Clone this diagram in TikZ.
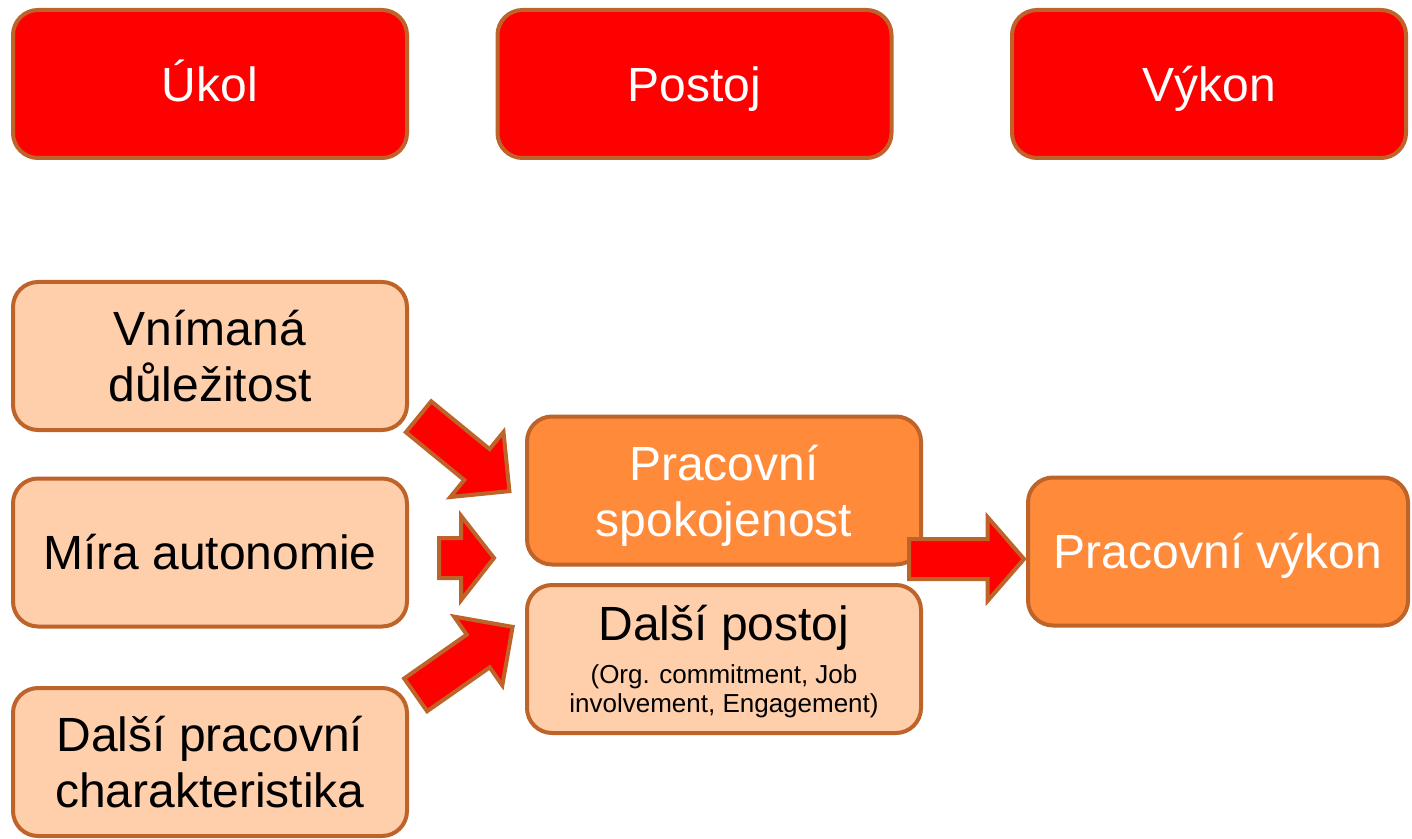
\documentclass[tikz,border=0pt]{standalone}
\usepackage{fontspec}
\setmainfont{Liberation Sans}
\usepackage{xcolor}
\definecolor{boxred}{RGB}{255,0,0}
\definecolor{boxorange}{RGB}{255,138,58}
\definecolor{boxpeach}{RGB}{255,206,170}
\definecolor{boxedge}{RGB}{190,100,42}
\usepackage{tikz}
\usetikzlibrary{calc, shapes.arrows}

% block arrow from tail coordinate to tip coordinate
\newcommand{\blockarrow}[3][]{%
  \path let \p1=(#2), \p2=(#3),
        \n1={atan2(\y2-\y1,\x2-\x1)}, \n2={veclen(\x2-\x1,\y2-\y1)} in
    node[bigarrow, #1, minimum height=\n2, rotate=\n1, anchor=tail] at (\p1) {};}
% last line without descender depth
\newcommand{\lastline}[1]{\raisebox{0pt}[\height][0pt]{#1}}

\begin{document}
\begin{tikzpicture}[x=0.5pt, y=-0.5pt,
  box/.style={draw=boxedge, line width=2pt, rounded corners=12.5pt,
              minimum width=197pt, minimum height=74pt, align=center,
              font=\fontsize{24}{28}\selectfont},
  oneline/.style={text height=17.2pt, text depth=0pt},
  headbox/.style={box, oneline, fill=boxred, text=white},
  factor/.style={box, fill=boxpeach, text=black},
  result/.style={box, fill=boxorange, text=white},
  bigarrow/.style={single arrow, draw=boxedge, fill=boxred, line width=2pt,
                   inner xsep=0pt, inner ysep=9pt, minimum width=0pt,
                   single arrow head extend=11pt, single arrow tip angle=90}]

\useasboundingbox (0,0) rectangle (1412,839);

% === header row ===
\node[headbox] (ukol)   at (210,84)   {Úkol};
\node[headbox] (postoj) at (694.5,84) {Postoj};
\node[headbox] (vykon)  at (1209,84)  {Výkon};

% === task characteristics ===
\node[factor] (dulezitost)      at (210,356)   {Vnímaná\\důležitost};
\node[factor, oneline] (autonomie) at (210,552.5) {Míra autonomie};
\node[factor] (charakteristika) at (210,762)   {Další pracovní\\charakteristika};

% === attitudes ===
\node[result] (spokojenost) at (724,490.5) {Pracovní\\\lastline{spokojenost}};
\node[factor] (dalsipostoj) at (724,659)
     {Další postoj\\[-6.5pt]
      {\fontsize{13}{15}\selectfont (Org. commitment, Job}\\[-13.5pt]
      {\fontsize{13}{15}\selectfont \lastline{involvement, Engagement)}}};

% === performance ===
\node[result, oneline, minimum width=190pt] (pracvykon) at (1218,551.5) {Pracovní výkon};

% arrow ends
\coordinate (a1s) at (417,415.5);  \coordinate (a1e) at (508,490);
\coordinate (a2s) at (437,558);    \coordinate (a2e) at (492,558);
\coordinate (a3s) at (414,696);    \coordinate (a3e) at (511,628);
\coordinate (a4s) at (907,559);    \coordinate (a4e) at (1022,559);

\blockarrow{a1s}{a1e}
\blockarrow[single arrow tip angle=104]{a2s}{a2e}
\blockarrow{a3s}{a3e}
\blockarrow[single arrow tip angle=98]{a4s}{a4e}

\end{tikzpicture}
\end{document}
